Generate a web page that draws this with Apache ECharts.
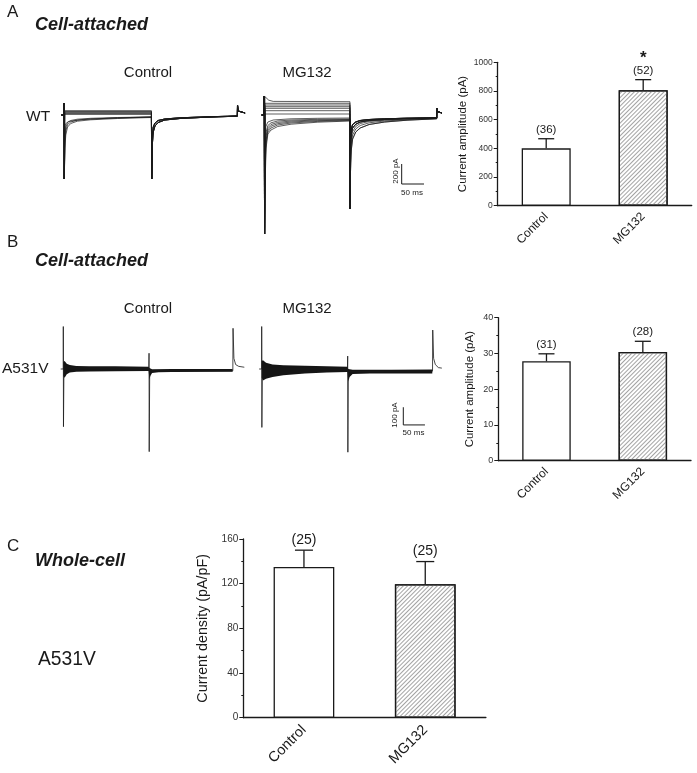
<!DOCTYPE html>
<html>
<head>
<meta charset="utf-8">
<script src="https://cdn.jsdelivr.net/npm/echarts@6/dist/echarts.min.js"></script>
<style>
  html, body { margin: 0; padding: 0; background: #fff; }
  #chart { width: 697px; height: 773px; }
</style>
</head>
<body>
<div id="chart"></div>
<script>
// ---------- bar chart data ----------
var barCats = ['Control', 'MG132'];

// A: WT, cell-attached
var ampWT = [400, 805];
var ampWTErr = [67, 74];
var nWT = ['(36)', '(52)'];
var sigWT = ['', '*'];
var ticksWT = [0, 200, 400, 600, 800, 1000];

// B: A531V, cell-attached
var ampA531V = [27.8, 30.4];
var ampA531VErr = [2.1, 3.0];
var nA531V = ['(31)', '(28)'];
var ticksA531V = [0, 10, 20, 30, 40];

// C: A531V, whole-cell
var densA531V = [135, 119.5];
var densA531VErr = [15, 20.3];
var nDens = ['(25)', '(25)'];
var ticksDens = [0, 40, 80, 120, 160];

// ---------- current traces (ms, pA) ----------
// A, WT control
var aCtrlOnset = [[-6, 0], [0, 0], [0, 120], [0.6, -640]];
var aCtrlSteps = [43, 36, 29, 22, 14, 6];
var aCtrlCurves = [
  [[2, -330], [4, -200], [8, -120], [15, -85], [30, -62], [60, -48], [120, -35], [196, -25]],
  [[2, -260], [4, -160], [8, -95], [15, -70], [30, -52], [60, -40], [120, -30], [196, -22]],
  [[2, -200], [4, -120], [8, -75], [15, -55], [30, -42], [60, -33], [120, -25], [196, -19]],
  [[3, -90], [10, -65], [40, -45], [100, -32], [196, -18]]
];
var aCtrlTails = [
  [[196.6, -640], [198, -300], [200, -170], [204, -110], [211, -75], [226, -50], [260, -35], [320, -22], [388.6, -12]],
  [[196.6, -640], [198, -220], [200, -120], [204, -80], [211, -55], [226, -40], [260, -28], [320, -18], [388.6, -10]]
];
var aCtrlEnd = [[389, 100], [390.5, 40], [394, 22], [406, 20]];

// A, WT MG132
var aMgOnset = [[-6, 0], [0, 0], [0, 190], [0.6, -1190]];
var aMgSteps = [117, 100, 83, 67, 43, 10];
var aMgTop = [[1.5, 183], [4, 165], [10, 148], [20, 136], [192, 133]];
var aMgCurves = [
  [[2, -650], [4, -330], [8, -190], [15, -150], [30, -115], [60, -92], [120, -72], [192, -60]],
  [[2, -550], [4, -290], [8, -170], [15, -130], [30, -100], [60, -80], [120, -64], [192, -55]],
  [[2, -470], [4, -250], [8, -150], [15, -112], [30, -87], [60, -70], [120, -57], [192, -50]],
  [[2, -400], [4, -210], [8, -128], [15, -95], [30, -74], [60, -60], [120, -50], [192, -45]],
  [[2, -330], [4, -170], [8, -105], [15, -78], [30, -60], [60, -50], [120, -43], [192, -40]],
  [[3, -120], [8, -70], [20, -50], [60, -38], [120, -33], [192, -30]]
];
var aMgTails = [
  [[192.2, -940], [193, -600], [195, -350], [198, -240], [205, -170], [215, -130], [235, -95], [270, -70], [320, -52], [386.5, -38]],
  [[192.2, -940], [193, -500], [195, -290], [198, -200], [205, -140], [215, -105], [235, -78], [270, -60], [320, -46], [386.5, -35]],
  [[192.2, -940], [193, -420], [195, -240], [198, -165], [205, -115], [215, -85], [235, -65], [270, -52], [320, -40], [386.5, -32]],
  [[192.2, -940], [193, -340], [195, -190], [198, -130], [205, -92], [215, -70], [235, -55], [270, -45], [320, -36], [386.5, -30]],
  [[192.2, -940], [193, -260], [195, -140], [198, -95], [205, -70], [215, -55], [235, -45], [270, -38], [320, -32], [386.5, -28]]
];
var aMgEnd = [[386.8, 70], [388, 35], [392, 22], [398, 20]];
var scaleBarA = [[308, -490], [308, -690], [358, -690]];

// B, A531V control: noise band envelope + capacitive spikes
var bCtrlUpper = [[0, 40], [3, 45], [8, 30], [15, 22], [30, 17], [60, 16], [120, 15], [197, 13], [199, 5], [205, -1], [250, 0], [391, 0]];
var bCtrlLower = [[0, -40], [3, -50], [8, -30], [15, -20], [30, -15], [60, -14], [120, -13], [197, -11], [199, -60], [201, -40], [205, -22], [220, -18], [250, -17], [391, -16]];
var bCtrlSpikes = [[-6, 0], [0, 0], [0, 240], [0.4, -326], [1.5, 5], [197.5, 5], [198, 89], [198.4, -467], [199.5, -10], [391.5, -10], [392, 230], [394, 60], [398, 25], [405, 15], [418, 10]];

// B, A531V MG132
var bMgUpper = [[0, 45], [3, 50], [10, 35], [25, 26], [50, 21], [100, 18], [150, 15], [198, 13], [200, 0], [210, -4], [300, -4], [394, -3]];
var bMgLower = [[0, -50], [3, -65], [10, -55], [25, -45], [50, -35], [100, -25], [150, -20], [198, -17], [200, -70], [203, -45], [210, -28], [250, -26], [394, -25]];
var bMgSpikes = [[-6, 0], [0, 0], [0, 240], [0.4, -330], [1.5, 0], [198, 0], [198.6, 73], [199, -470], [200, -15], [394.5, -12], [395, 220], [397, 60], [401, 25], [408, 8], [416, 5]];
var scaleBarB = [[327, -216], [327, -316], [377, -316]];

var FONT = '"Liberation Sans", Arial, sans-serif';
var INK = '#1a1a1a';

// 将几段曲线拼成一条扫描
function sweep(onset, pulse1, tail, end) {
  return onset.concat(pulse1, tail, end);
}

function traceLine(data, gi, width) {
  return {
    type: 'line', xAxisIndex: gi, yAxisIndex: gi, data: data,
    symbol: 'none', silent: true, animation: false,
    lineStyle: { color: INK, width: width || 0.7 }
  };
}

function bandSeries(upper, lower, gi) {
  return {
    type: 'custom', xAxisIndex: gi, yAxisIndex: gi, silent: true, animation: false,
    data: [[0, 0]],
    renderItem: function (params, api) {
      var pts = upper.map(function (p) { return api.coord(p); });
      lower.slice().reverse().forEach(function (p) { pts.push(api.coord(p)); });
      return { type: 'polygon', shape: { points: pts }, style: { fill: '#151515' } };
    }
  };
}

var series = [];

// A control sweeps
aCtrlSteps.forEach(function (lvl, i) {
  series.push(traceLine(sweep(aCtrlOnset, [[1.5, lvl], [196, lvl]], aCtrlTails[i % 2], aCtrlEnd), 0));
});
aCtrlCurves.forEach(function (c, i) {
  series.push(traceLine(sweep(aCtrlOnset, c, aCtrlTails[(i + 1) % 2], aCtrlEnd), 0));
});

// A MG132 sweeps
series.push(traceLine(sweep(aMgOnset, aMgTop, aMgTails[4], aMgEnd), 1));
aMgSteps.forEach(function (lvl, i) {
  series.push(traceLine(sweep(aMgOnset, [[1.5, lvl], [192, lvl]], aMgTails[3 + (i % 2)], aMgEnd), 1));
});
aMgCurves.forEach(function (c, i) {
  series.push(traceLine(sweep(aMgOnset, c, aMgTails[i % 5], aMgEnd), 1));
});
series.push(traceLine(scaleBarA, 1, 1));

// B traces
series.push(bandSeries(bCtrlUpper, bCtrlLower, 3));
series.push(traceLine(bCtrlSpikes, 3, 0.8));
series.push(bandSeries(bMgUpper, bMgLower, 4));
series.push(traceLine(bMgSpikes, 4, 0.8));
series.push(traceLine(scaleBarB, 4, 1));

// ---------- bar charts ----------
var hatch = {
  symbol: 'rect', symbolSize: 1,
  dashArrayX: [1, 0], dashArrayY: [1, 2],
  rotation: -Math.PI / 4, color: '#a3a3a3'
};

function barSeries(gi, values, width) {
  return {
    type: 'bar', xAxisIndex: gi, yAxisIndex: gi, barWidth: width, animation: false, silent: true,
    itemStyle: { color: '#fff', borderColor: INK, borderWidth: 1.3 },
    data: values.map(function (v, i) {
      return i === 1 ? { value: v, itemStyle: { decal: hatch } } : { value: v };
    })
  };
}

function errorSeries(gi, means, errs, ns, sigs, capW, fs) {
  return {
    type: 'custom', xAxisIndex: gi, yAxisIndex: gi, silent: true, animation: false, z: 5,
    data: means.map(function (m, i) { return [i, m, errs[i]]; }),
    renderItem: function (params, api) {
      var i = api.value(0), m = api.value(1), e = api.value(2);
      var base = api.coord([i, m]);
      var top = api.coord([i, m + e]);
      var ls = { stroke: INK, lineWidth: 1.3 };
      var kids = [
        { type: 'line', shape: { x1: base[0], y1: base[1], x2: top[0], y2: top[1] }, style: ls },
        { type: 'line', shape: { x1: top[0] - capW / 2, y1: top[1], x2: top[0] + capW / 2, y2: top[1] }, style: ls },
        { type: 'text', style: { text: ns[i], x: top[0], y: top[1] - 3, align: 'center', verticalAlign: 'bottom',
          textAlign: 'center', textVerticalAlign: 'bottom', font: fs + 'px ' + FONT, fill: INK } }
      ];
      if (sigs && sigs[i]) {
        kids.push({ type: 'text', style: { text: sigs[i], x: top[0], y: top[1] - fs - 1, align: 'center', verticalAlign: 'bottom',
          textAlign: 'center', textVerticalAlign: 'bottom', font: 'bold 17px ' + FONT, fill: INK } });
      }
      return { type: 'group', children: kids };
    }
  };
}

series.push(barSeries(2, ampWT, 49));
series.push(errorSeries(2, ampWT, ampWTErr, nWT, sigWT, 16, 11.5));
series.push(barSeries(5, ampA531V, 48.5));
series.push(errorSeries(5, ampA531V, ampA531VErr, nA531V, null, 16, 11.5));
series.push(barSeries(6, densA531V, 60.7));
series.push(errorSeries(6, densA531V, densA531VErr, nDens, null, 18, 14));

// ---------- axes ----------
function hiddenX(gi) { return { gridIndex: gi, type: 'value', min: -10, max: 420, show: false }; }
function hiddenY(gi, lo, hi) { return { gridIndex: gi, type: 'value', min: lo, max: hi, show: false }; }

function catX(gi, fs, margin) {
  return {
    gridIndex: gi, type: 'category', data: barCats,
    axisLine: { lineStyle: { color: INK, width: 1.3 } },
    axisTick: { alignWithLabel: true, length: 4, lineStyle: { color: INK, width: 1 } },
    axisLabel: { rotate: 45, fontSize: fs, color: INK, margin: margin, fontFamily: FONT },
    splitLine: { show: false }
  };
}

function valY(gi, ticks, name, nameGap, nameFs, labelFs) {
  return {
    gridIndex: gi, type: 'value',
    min: ticks[0], max: ticks[ticks.length - 1], interval: ticks[1] - ticks[0],
    name: name, nameLocation: 'middle', nameGap: nameGap,
    nameTextStyle: { fontSize: nameFs, color: INK, fontFamily: FONT },
    axisLine: { show: true, lineStyle: { color: INK, width: 1.3 } },
    axisTick: { show: true, length: 4, lineStyle: { color: INK, width: 1 } },
    minorTick: { show: true, splitNumber: 2, length: 2, lineStyle: { color: INK, width: 1 } },
    splitLine: { show: false },
    axisLabel: { fontSize: labelFs, color: '#333', margin: 5, fontFamily: FONT,
      formatter: function (v) { return String(v); } }
  };
}

// ---------- texts ----------
function txt(s, x, y, size, opts) {
  opts = opts || {};
  return {
    type: 'text', x: x, y: y, rotation: opts.rot || 0, silent: true,
    style: {
      text: s, x: 0, y: 0,
      align: opts.align || 'left', verticalAlign: 'middle',
      textAlign: opts.align || 'left', textVerticalAlign: 'middle',
      font: (opts.weight || '') + ' ' + size + 'px ' + FONT, fill: INK
    }
  };
}

var graphics = [
  txt('A', 7, 12, 17),
  txt('Cell-attached', 35, 25, 18, { weight: 'italic bold' }),
  txt('Control', 148, 72.5, 15, { align: 'center' }),
  txt('MG132', 307, 72.5, 15, { align: 'center' }),
  txt('WT', 26, 116.5, 15.5),
  txt('200 pA', 395.5, 171, 8, { align: 'center', rot: Math.PI / 2 }),
  txt('50 ms', 412, 192.5, 8, { align: 'center' }),

  txt('B', 7, 242.5, 17),
  txt('Cell-attached', 35, 261, 18, { weight: 'italic bold' }),
  txt('Control', 148, 309, 15, { align: 'center' }),
  txt('MG132', 307, 309, 15, { align: 'center' }),
  txt('A531V', 2, 369, 15.5),
  txt('100 pA', 395, 415, 8, { align: 'center', rot: Math.PI / 2 }),
  txt('50 ms', 413.5, 433, 8, { align: 'center' }),

  txt('C', 7, 546, 17),
  txt('Whole-cell', 35, 561, 18, { weight: 'italic bold' }),
  txt('A531V', 38, 660, 19.3)
];

var option = {
  backgroundColor: '#fff',
  animation: false,
  grid: [
    { left: 59.54, top: 90, width: 191.8, height: 150 },       // 0 A control trace
    { left: 259.84, top: 90, width: 191.8, height: 150 },      // 1 A MG132 trace
    { left: 497.7, top: 62.3, width: 194, height: 143.4 },     // 2 A bars
    { left: 58.97, top: 319.44, width: 186.2, height: 141.6 }, // 3 B control trace
    { left: 257.37, top: 319.44, width: 186.2, height: 141.6 },// 4 B MG132 trace
    { left: 498.3, top: 317.7, width: 192.7, height: 143 },    // 5 B bars
    { left: 243.3, top: 539, width: 242.6, height: 178.7 }     // 6 C bars
  ],
  xAxis: [
    hiddenX(0), hiddenX(1), catX(2, 12, 9),
    hiddenX(3), hiddenX(4), catX(5, 12, 9),
    catX(6, 14.5, 10)
  ],
  yAxis: [
    hiddenY(0, -1250, 250), hiddenY(1, -1250, 250),
    valY(2, ticksWT, 'Current amplitude (pA)', 29, 11.5, 8.5),
    hiddenY(3, -520, 280), hiddenY(4, -520, 280),
    valY(5, ticksA531V, 'Current amplitude (pA)', 22, 11.5, 9),
    valY(6, ticksDens, 'Current density (pA/pF)', 33, 14.3, 10)
  ],
  graphic: graphics,
  series: series
};

var chart = echarts.init(document.getElementById('chart'), null, { renderer: 'canvas' });
chart.setOption(option);
window.onresize = chart.resize;
</script>
</body>
</html>
